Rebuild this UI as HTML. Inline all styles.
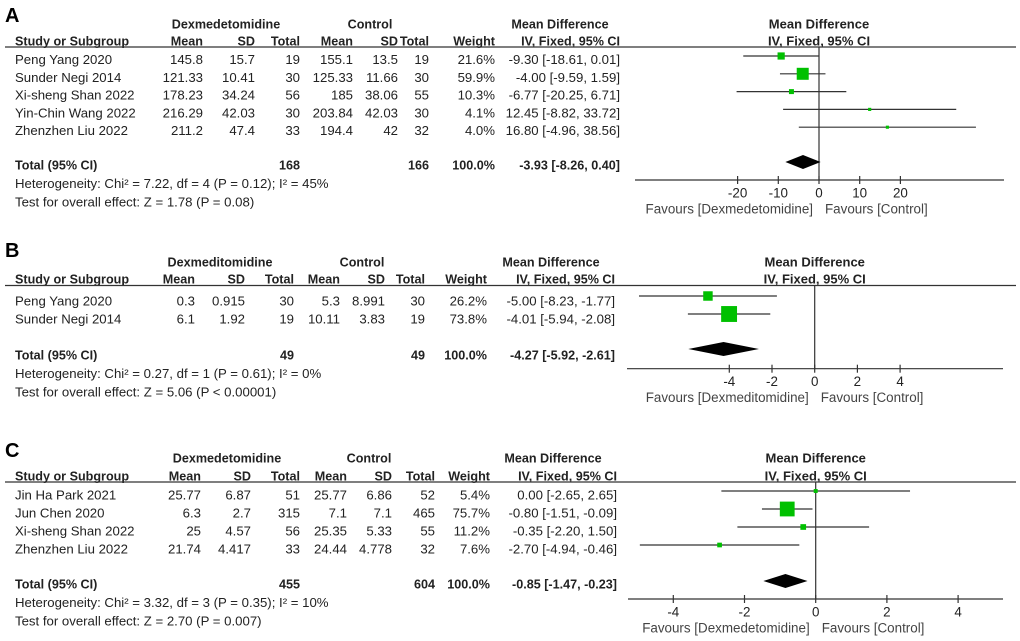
<!DOCTYPE html>
<html><head><meta charset="utf-8"><style>
html,body{margin:0;padding:0;background:#fff;}
svg{display:block;font-family:"Liberation Sans",Arial,sans-serif;}
text{fill:#222;font-size:13.2px;}
.b{font-weight:bold;font-size:12.6px;}
.ph{font-size:13px;font-weight:bold;}
.lab{font-size:20px;font-weight:bold;fill:#000;}
.fav{fill:#444;font-size:13.4px;}
.tk{fill:#222;font-size:13.4px;}
</style></head><body>
<svg id="c" width="1020" height="641" viewBox="0 0 1020 641"></svg>
<script>
// Panel A data
const aStudies=["Peng Yang 2020","Sunder Negi 2014","Xi-sheng Shan 2022","Yin-Chin Wang 2022","Zhenzhen Liu 2022"];
const aExpMean=["145.8","121.33","178.23","216.29","211.2"];
const aExpSD=["15.7","10.41","34.24","42.03","47.4"];
const aExpN=["19","30","56","30","33"];
const aCtlMean=["155.1","125.33","185","203.84","194.4"];
const aCtlSD=["13.5","11.66","38.06","42.03","42"];
const aCtlN=["19","30","55","30","32"];
const aWeight=[21.6,59.9,10.3,4.1,4.0];
const aMD=[-9.30,-4.00,-6.77,12.45,16.80];
const aLo=[-18.61,-9.59,-20.25,-8.82,-4.96];
const aHi=[0.01,1.59,6.71,33.72,38.56];
const aTotal=[-3.93,-8.26,0.40];
const aTicks=[-20,-10,0,10,20];
// Panel B data
const bStudies=["Peng Yang 2020","Sunder Negi 2014"];
const bExpMean=["0.3","6.1"];
const bExpSD=["0.915","1.92"];
const bExpN=["30","19"];
const bCtlMean=["5.3","10.11"];
const bCtlSD=["8.991","3.83"];
const bCtlN=["30","19"];
const bWeight=[26.2,73.8];
const bMD=[-5.00,-4.01];
const bLo=[-8.23,-5.94];
const bHi=[-1.77,-2.08];
const bTotal=[-4.27,-5.92,-2.61];
const bTicks=[-4,-2,0,2,4];
// Panel C data
const cStudies=["Jin Ha Park 2021","Jun Chen 2020","Xi-sheng Shan 2022","Zhenzhen Liu 2022"];
const cExpMean=["25.77","6.3","25","21.74"];
const cExpSD=["6.87","2.7","4.57","4.417"];
const cExpN=["51","315","56","33"];
const cCtlMean=["25.77","7.1","25.35","24.44"];
const cCtlSD=["6.86","7.1","5.33","4.778"];
const cCtlN=["52","465","55","32"];
const cWeight=[5.4,75.7,11.2,7.6];
const cMD=[0.00,-0.80,-0.35,-2.70];
const cLo=[-2.65,-1.51,-2.20,-4.94];
const cHi=[2.65,-0.09,1.50,-0.46];
const cTotal=[-0.85,-1.47,-0.23];
const cTicks=[-4,-2,0,2,4];

const NS="http://www.w3.org/2000/svg";
const svg=document.getElementById('c');
function el(tag,attrs,txt){const e=document.createElementNS(NS,tag);for(const k in attrs)e.setAttribute(k,attrs[k]);if(txt!==undefined)e.textContent=txt;svg.appendChild(e);return e;}
function T(x,y,s,anchor,cls,name){const e=el('text',{x:x,y:y+4.5,'text-anchor':anchor||'start'},s);if(cls)e.setAttribute('class',cls);


return e;}
function f2(v){return v.toFixed(2);}

function panel(P){
  const L=el('text',{x:5,y:P.labY+7,'class':'lab'},P.label);
  
  
  const c=P.cols;
  T(P.gx[0],P.gY,P.grp,'middle','b','group-header');
  T(P.gx[1],P.gY,'Control','middle','b','group-header');
  T(P.gx[2],P.gY,'Mean Difference','middle','b','group-header');
  T(P.zx,P.gY,'Mean Difference','middle','ph','plot-header');
  T(15,P.hY,'Study or Subgroup','start','b','column-header');
  const hd=['Mean','SD','Total','Mean','SD','Total','Weight','IV, Fixed, 95% CI'];
  hd.forEach((h,i)=>T(c[i],P.hY,h,'end','b','column-header'));
  T(P.zx,P.hY,'IV, Fixed, 95% CI','middle','ph','plot-header');
  const ln=el('line',{x1:5,x2:1016,y1:P.lineY,y2:P.lineY,stroke:'#333','stroke-width':1.2});
  
  
  const sx=v=>P.zx+v*P.scale;
  const z=el('line',{x1:sx(0),x2:sx(0),y1:P.lineY,y2:P.axisY,stroke:'#333','stroke-width':1.2});
  
  
  P.studies.forEach((s,i)=>{
    const ty=P.row0+i*P.rowH, my=ty-P.mOff;
    T(15,ty,s,'start',null,'study-name');
    const vals=[P.em[i],P.esd[i],P.en[i],P.cm[i],P.csd[i],P.cn[i],P.w[i].toFixed(1)+'%',f2(P.md[i])+' ['+f2(P.lo[i])+', '+f2(P.hi[i])+']'];
    vals.forEach((v,j)=>T(c[j],ty,v,'end',null,'table-cell'));
    const l=el('line',{x1:sx(P.lo[i]),x2:sx(P.hi[i]),y1:my,y2:my,stroke:'#333','stroke-width':1.2});
    
    
    const sz=Math.max(3,Math.sqrt(P.w[i])*P.sq);
    const r=el('rect',{x:sx(P.md[i])-sz/2,y:my-sz/2,width:sz,height:sz,fill:'#00c000'});
    
    
  });
  T(15,P.totY,'Total (95% CI)','start','b','total-label');
  T(c[2],P.totY,P.tn[0],'end','b','total-cell');
  T(c[5],P.totY,P.tn[1],'end','b','total-cell');
  T(c[6],P.totY,'100.0%','end','b','total-cell');
  T(c[7],P.totY,f2(P.tot[0])+' ['+f2(P.tot[1])+', '+f2(P.tot[2])+']','end','b','total-cell');
  const dy=P.diaY;
  const d=el('polygon',{points:`${sx(P.tot[1])},${dy} ${sx(P.tot[0])},${dy-7} ${sx(P.tot[2])},${dy} ${sx(P.tot[0])},${dy+7}`,fill:'#000'});
  
  
  T(15,P.totY+18.5,P.het,'start',null,'heterogeneity-text');
  T(15,P.totY+37,P.test,'start',null,'overall-effect-text');
  const ax=el('line',{x1:P.ax0,x2:P.ax1,y1:P.axisY,y2:P.axisY,stroke:'#333','stroke-width':1.2});
  
  
  P.ticks.forEach(t=>{
    const tk=el('line',{x1:sx(t),x2:sx(t),y1:P.axisY-4,y2:P.axisY+4,stroke:'#333','stroke-width':1.2});
    
    
    T(sx(t),P.axisY+13,String(t),'middle','tk','x-tick-label');
  });
  T(sx(0)-6,P.axisY+29,P.favL,'end','fav','favours-left');
  T(sx(0)+6,P.axisY+29,'Favours [Control]','start','fav','favours-right');
}
panel({label:'A',grp:'Dexmedetomidine',labY:15,gY:24,hY:41,lineY:47,row0:59.5,rowH:17.8,mOff:3.5,totY:165,diaY:162,
 cols:[203,255,300,353,398,429,495,620],gx:[226,370,560],zx:819,scale:4.07,sq:1.55,axisY:180,ax0:635,ax1:1004,
 studies:aStudies,em:aExpMean,esd:aExpSD,en:aExpN,cm:aCtlMean,csd:aCtlSD,cn:aCtlN,w:aWeight,md:aMD,lo:aLo,hi:aHi,tot:aTotal,tn:['168','166'],ticks:aTicks,
 het:'Heterogeneity: Chi² = 7.22, df = 4 (P = 0.12); I² = 45%',test:'Test for overall effect: Z = 1.78 (P = 0.08)',favL:'Favours [Dexmedetomidine]'});
panel({label:'B',grp:'Dexmeditomidine',labY:250,gY:262,hY:279,lineY:285.5,row0:301,rowH:18,mOff:5,totY:355,diaY:349,
 cols:[195,245,294,340,385,425,487,615],gx:[220,362,551],zx:814.7,scale:21.35,sq:1.85,axisY:368.7,ax0:627,ax1:1003,
 studies:bStudies,em:bExpMean,esd:bExpSD,en:bExpN,cm:bCtlMean,csd:bCtlSD,cn:bCtlN,w:bWeight,md:bMD,lo:bLo,hi:bHi,tot:bTotal,tn:['49','49'],ticks:bTicks,
 het:'Heterogeneity: Chi² = 0.27, df = 1 (P = 0.61); I² = 0%',test:'Test for overall effect: Z = 5.06 (P < 0.00001)',favL:'Favours [Dexmeditomidine]'});
panel({label:'C',grp:'Dexmedetomidine',labY:450,gY:458,hY:476,lineY:482,row0:495,rowH:18,mOff:4,totY:584,diaY:581,
 cols:[201,251,300,347,392,435,490,617],gx:[227,369,553],zx:815.7,scale:35.6,sq:1.7,axisY:599,ax0:628,ax1:1003,
 studies:cStudies,em:cExpMean,esd:cExpSD,en:cExpN,cm:cCtlMean,csd:cCtlSD,cn:cCtlN,w:cWeight,md:cMD,lo:cLo,hi:cHi,tot:cTotal,tn:['455','604'],ticks:cTicks,
 het:'Heterogeneity: Chi² = 3.32, df = 3 (P = 0.35); I² = 10%',test:'Test for overall effect: Z = 2.70 (P = 0.007)',favL:'Favours [Dexmedetomidine]'});
</script>
</body></html>
